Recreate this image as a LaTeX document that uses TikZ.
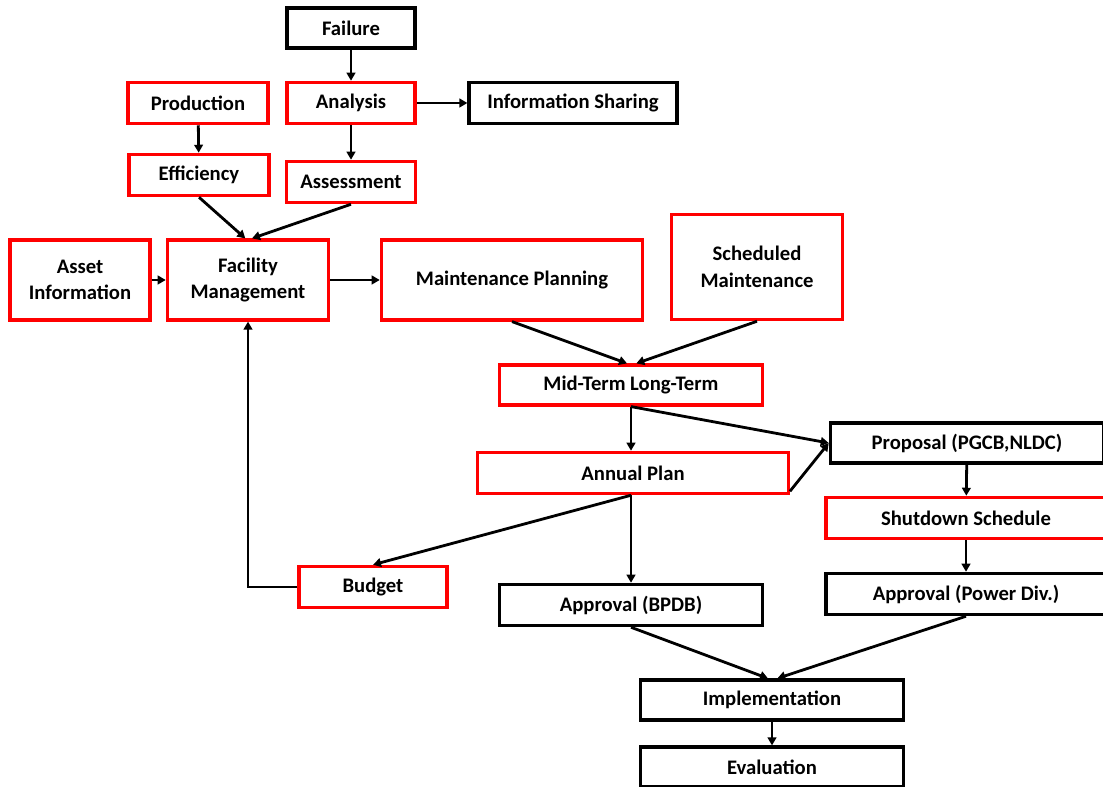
\documentclass[tikz,border=0pt]{standalone}
\usepackage{fontspec}
\setmainfont{Carlito}
\usetikzlibrary{arrows.meta, positioning, calc}

\begin{document}
\begin{tikzpicture}[x=0.75pt, y=-0.75pt, font=\fontsize{15.5}{20}\selectfont\bfseries]
  \tikzstyle{box}=[draw, line width=2.4pt, align=center, inner sep=2pt]
  \tikzstyle{redbox}=[box, draw=red]
  \tikzstyle{blkbox}=[box, draw=black]
  \tikzstyle{flow}=[line width=2.1pt, -{Triangle[length=6pt,width=6.5pt]}]

  \useasboundingbox (0,0) rectangle (1103,787);

  % top part
  \node[blkbox, minimum width=96pt, minimum height=30pt] (fail) at (351,28) {Failure};
  \node[redbox, minimum width=105pt, minimum height=31pt] (prod) at (198,103) {Production};
  \node[redbox, minimum width=96pt, minimum height=31pt] (anal) at (351,103) {Analysis};
  \node[blkbox, minimum width=156pt, minimum height=31pt] (info) at (573,103) {Information Sharing};
  \node[redbox, minimum width=105pt, minimum height=31pt] (eff) at (199,175) {Efficiency};
  \node[redbox, minimum width=97pt, minimum height=31pt] (assess) at (351,182) {Assessment};

  % middle row
  \node[redbox, minimum width=105pt, minimum height=60pt] (asset) at (80,280) {Asset\\Information};
  \node[redbox, minimum width=121pt, minimum height=60pt] (fac) at (248,280) {Facility\\Management};
  \node[redbox, minimum width=196pt, minimum height=60pt] (mplan) at (512,280) {Maintenance Planning};
  \node[redbox, minimum width=128pt, minimum height=79pt] (sched) at (757,267) {Scheduled\\Maintenance};

  % planning
  \node[redbox, minimum width=197pt, minimum height=30pt] (term) at (631,385) {Mid-Term Long-Term};
  \node[redbox, minimum width=233pt, minimum height=31pt] (annual) at (633,473) {Annual Plan};
  \node[blkbox, minimum width=205pt, minimum height=30pt] (prop) at (967,443) {Proposal (PGCB,NLDC)};
  \node[redbox, minimum width=210pt, minimum height=31pt] (shut) at (966,518) {Shutdown Schedule};
  \node[blkbox, minimum width=210pt, minimum height=31pt] (appdiv) at (966,594) {Approval (Power Div.)};
  \node[redbox, minimum width=111pt, minimum height=31pt] (budget) at (373,587) {Budget};
  \node[blkbox, minimum width=197pt, minimum height=31pt] (appbpdb) at (631,605) {Approval (BPDB)};

  % execution
  \node[blkbox, minimum width=197pt, minimum height=30pt] (impl) at (772,700) {Implementation};
  \node[blkbox, minimum width=197pt, minimum height=30pt] (eval) at (772,767) {Evaluation};

  % arrows
  \draw[flow] (fail) -- (anal);
  \draw[flow] (prod) -- (eff);
  \draw[flow] (anal) -- (assess);
  \draw[flow] (anal) -- (info);
  \draw[flow] (eff.south) -- ([xshift=-2pt]fac.north);
  \draw[flow] (assess.south) -- ([xshift=3pt]fac.north);
  \draw[flow] (asset) -- (fac);
  \draw[flow] (fac) -- (mplan);
  \draw[flow] (mplan.south) -- ([xshift=-3pt]term.north);
  \draw[flow] (sched.south) -- ([xshift=4pt]term.north);
  \draw[flow] (term.south) -- (annual.north -| term.south);
  \draw[flow] (term.south) -- (prop.west);
  \draw[flow] ([yshift=3pt]annual.south east) -- (prop.west);
  \draw[flow] (prop) -- (shut);
  \draw[flow] (shut) -- (appdiv);
  \draw[flow] (annual.south -| term.south) -- (budget.north);
  \draw[flow] (annual.south -| term.south) -- (appbpdb.north);
  \draw[flow] (budget.west) -| (fac.south);
  \draw[flow] (appbpdb.south) -- ([xshift=-3pt]impl.north);
  \draw[flow] (appdiv.south) -- ([xshift=4pt]impl.north);
  \draw[flow] (impl) -- (eval);

\end{tikzpicture}
\end{document}
